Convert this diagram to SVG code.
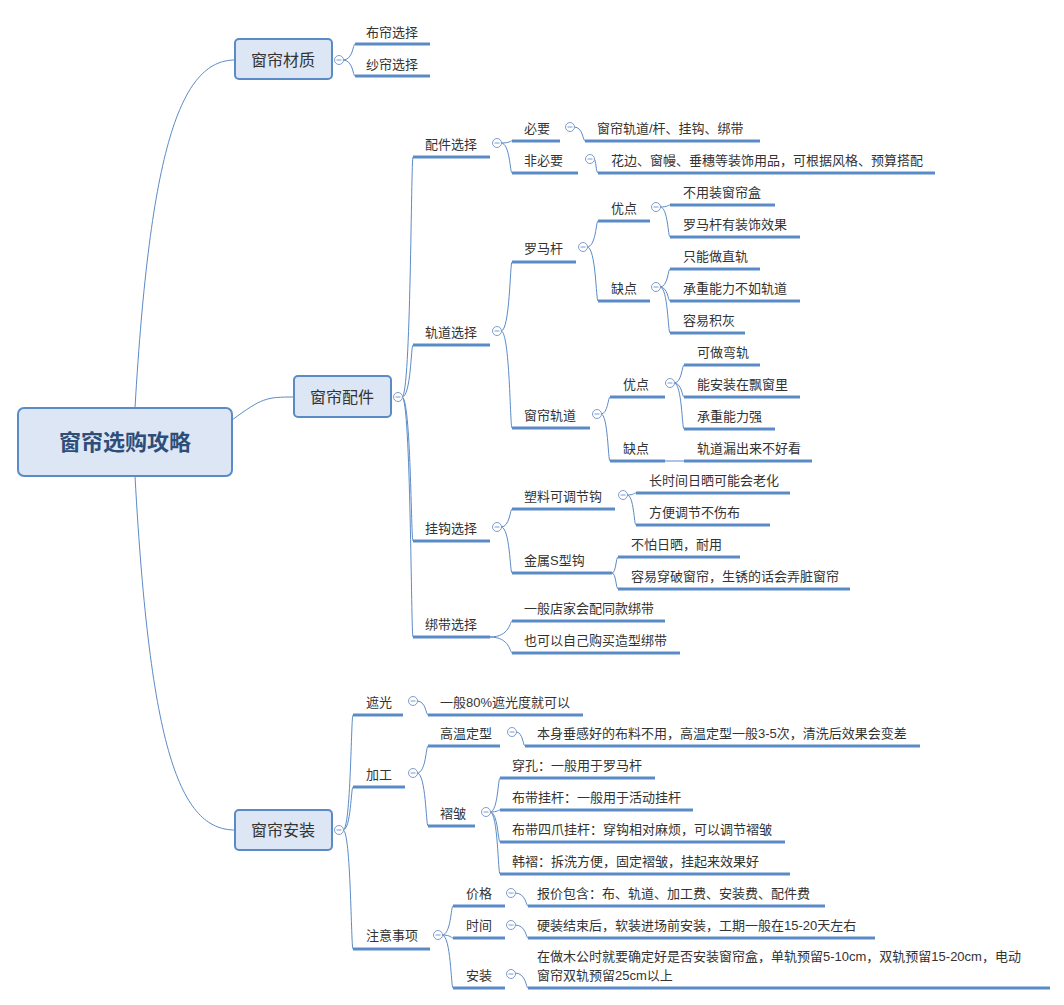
<svg xmlns="http://www.w3.org/2000/svg" width="1064" height="1005" viewBox="0 0 1064 1005">
<style>
.t{font-family:"Liberation Sans","Noto Sans CJK SC",sans-serif;font-size:13px;fill:#333}
.m{font-family:"Liberation Sans","Noto Sans CJK SC",sans-serif;font-size:16px;fill:#333;text-anchor:middle}
.r{font-family:"Liberation Sans","Noto Sans CJK SC",sans-serif;font-size:22px;font-weight:bold;fill:#2e4d78;text-anchor:middle}
.ul{stroke:#5b8bc7;stroke-width:3;fill:none}
.e{stroke:#5b8bc7;stroke-width:1;fill:none}
.c{stroke:#7d9ccc;stroke-width:1;fill:#fff}
.box{fill:#dce6f4;stroke:#5b8bc7;stroke-width:2}
</style>
<defs>
<g id="col"><circle class="c" r="4.5"/><line x1="-2.5" x2="2.5" stroke="#7d9ccc" stroke-width="1"/></g>
</defs>
<rect width="1064" height="1005" fill="#fff"/>
<g id="connectors">
<path class="e" d="M135,408 C150,150 180,60 235,60"/>
<path class="e" d="M232,420 C262,398 266,397 294,397"/>
<path class="e" d="M135,476 C150,750 180,830 235,830"/>
<path class="e" d="M343,60 C353,60 353,44 355,44 M343,60 C353,60 353,76 355,76"/>
<path class="e" d="M402,397 C411,397 411,157 413,157 M402,397 C411,397 411,345 413,345 M402,397 C411,397 411,541 413,541 M402,397 C411,397 411,637 413,637"/>
<path class="e" d="M501,143 C510,143 510,141 512,141 M501,143 C510,143 510,173 512,173"/>
<path class="e" d="M574,127 C583,127 583,141 585,141"/>
<path class="e" d="M594,159 C596,159 596,173 598,173"/>
<path class="e" d="M501,331 C510,331 510,262 512,262 M501,331 C510,331 510,428 512,428"/>
<path class="e" d="M587,247 C596,247 596,221 598,221 M587,247 C596,247 596,301 598,301"/>
<path class="e" d="M660,207 C668,207 668,205 670,205 M660,207 C668,207 668,237 670,237"/>
<path class="e" d="M660,287 C668,287 668,269 670,269 M660,287 C668,287 668,301 670,301 M660,287 C668,287 668,333 670,333"/>
<path class="e" d="M601,414 C608,414 608,397 610,397 M601,414 C608,414 608,461 610,461"/>
<path class="e" d="M674,383 C682,383 682,365 684,365 M674,383 C682,383 682,397 684,397 M674,383 C682,383 682,429 684,429"/>
<path class="e" d="M665,461 L684,461"/>
<path class="e" d="M501,527 C510,527 510,509 512,509 M501,527 C510,527 510,573 512,573"/>
<path class="e" d="M627,495 C634,495 634,493 636,493 M627,495 C634,495 634,525 636,525"/>
<path class="e" d="M612,573 C616,573 616,557 618,557 M612,573 C616,573 616,589 618,589"/>
<path class="e" d="M490,637 C510,637 510,621 512,621 M490,637 C510,637 510,653 512,653"/>
<path class="e" d="M343,830 C351,830 351,715 353,715 M343,830 C351,830 351,787 353,787 M343,830 C351,830 351,949 353,949"/>
<path class="e" d="M417,701 C426,701 426,715 428,715"/>
<path class="e" d="M417,773 C426,773 426,746 428,746 M417,773 C426,773 426,826 428,826"/>
<path class="e" d="M516,732 C523,732 523,746 525,746"/>
<path class="e" d="M490,812 C498,812 498,778 500,778 M490,812 C498,812 498,810 500,810 M490,812 C498,812 498,842 500,842 M490,812 C498,812 498,874 500,874"/>
<path class="e" d="M442,935 C451,935 451,906 453,906 M442,935 C451,935 451,938 453,938 M442,935 C451,935 451,988 453,988"/>
<path class="e" d="M515,893 C526,893 526,906 528,906 M515,925 C526,925 526,938 528,938 M515,973 C526,973 526,988 528,988"/>
</g>
<g id="root"><rect class="box" x="18" y="408" width="214" height="68" rx="6" stroke-width="4"/><text class="r" x="125" y="450">窗帘选购攻略</text></g>
<g id="n-caizhi"><rect class="box" x="235" y="39" width="97" height="40" rx="4"/><text class="m" x="283" y="66">窗帘材质</text><use href="#col" x="339" y="60"/></g>
<g id="n-peijian"><rect class="box" x="294" y="376" width="97" height="41" rx="4"/><text class="m" x="342" y="403">窗帘配件</text><use href="#col" x="398" y="397"/></g>
<g id="n-anzhuang"><rect class="box" x="235" y="810" width="97" height="40" rx="4"/><text class="m" x="283" y="836">窗帘安装</text><use href="#col" x="339" y="830"/></g>
<g id="subtopics">
<g><text class="t" x="366" y="37">布帘选择</text><path class="ul" d="M355,44H430"/></g>
<g><text class="t" x="366" y="69">纱帘选择</text><path class="ul" d="M355,76H430"/></g>
<g><text class="t" x="425" y="149">配件选择</text><path class="ul" d="M413,157H490"/><use href="#col" x="497" y="143"/></g>
<g><text class="t" x="524" y="133">必要</text><path class="ul" d="M512,141H560"/><use href="#col" x="570" y="127"/></g>
<g><text class="t" x="597" y="133">窗帘轨道/杆、挂钩、绑带</text><path class="ul" d="M585,141H760"/></g>
<g><text class="t" x="524" y="165">非必要</text><path class="ul" d="M512,173H578"/><use href="#col" x="590" y="159"/></g>
<g><text class="t" x="611" y="165">花边、窗幔、垂穗等装饰用品，可根据风格、预算搭配</text><path class="ul" d="M598,173H935"/></g>
<g><text class="t" x="425" y="337">轨道选择</text><path class="ul" d="M413,345H490"/><use href="#col" x="497" y="331"/></g>
<g><text class="t" x="524" y="253">罗马杆</text><path class="ul" d="M512,262H576"/><use href="#col" x="583" y="247"/></g>
<g><text class="t" x="611" y="213">优点</text><path class="ul" d="M598,221H650"/><use href="#col" x="656" y="207"/></g>
<g><text class="t" x="683" y="197">不用装窗帘盒</text><path class="ul" d="M670,205H775"/></g>
<g><text class="t" x="683" y="229">罗马杆有装饰效果</text><path class="ul" d="M670,237H800"/></g>
<g><text class="t" x="611" y="293">缺点</text><path class="ul" d="M598,301H650"/><use href="#col" x="656" y="287"/></g>
<g><text class="t" x="683" y="261">只能做直轨</text><path class="ul" d="M670,269H760"/></g>
<g><text class="t" x="683" y="293">承重能力不如轨道</text><path class="ul" d="M670,301H800"/></g>
<g><text class="t" x="683" y="325">容易积灰</text><path class="ul" d="M670,333H745"/></g>
<g><text class="t" x="524" y="420">窗帘轨道</text><path class="ul" d="M512,428H590"/><use href="#col" x="597" y="414"/></g>
<g><text class="t" x="623" y="389">优点</text><path class="ul" d="M610,397H665"/><use href="#col" x="670" y="383"/></g>
<g><text class="t" x="697" y="357">可做弯轨</text><path class="ul" d="M684,365H760"/></g>
<g><text class="t" x="697" y="389">能安装在飘窗里</text><path class="ul" d="M684,397H800"/></g>
<g><text class="t" x="697" y="421">承重能力强</text><path class="ul" d="M684,429H775"/></g>
<g><text class="t" x="623" y="453">缺点</text><path class="ul" d="M610,461H665"/></g>
<g><text class="t" x="697" y="453">轨道漏出来不好看</text><path class="ul" d="M684,461H812"/></g>
<g><text class="t" x="425" y="533">挂钩选择</text><path class="ul" d="M413,541H490"/><use href="#col" x="497" y="527"/></g>
<g><text class="t" x="524" y="501">塑料可调节钩</text><path class="ul" d="M512,509H615"/><use href="#col" x="623" y="495"/></g>
<g><text class="t" x="649" y="485">长时间日晒可能会老化</text><path class="ul" d="M636,493H790"/></g>
<g><text class="t" x="649" y="517">方便调节不伤布</text><path class="ul" d="M636,525H770"/></g>
<g><text class="t" x="524" y="565">金属S型钩</text><path class="ul" d="M512,573H612"/></g>
<g><text class="t" x="631" y="549">不怕日晒，耐用</text><path class="ul" d="M618,557H740"/></g>
<g><text class="t" x="631" y="581">容易穿破窗帘，生锈的话会弄脏窗帘</text><path class="ul" d="M618,589H850"/></g>
<g><text class="t" x="425" y="629">绑带选择</text><path class="ul" d="M413,637H490"/></g>
<g><text class="t" x="524" y="613">一般店家会配同款绑带</text><path class="ul" d="M512,621H665"/></g>
<g><text class="t" x="524" y="645">也可以自己购买造型绑带</text><path class="ul" d="M512,653H680"/></g>
<g><text class="t" x="366" y="707">遮光</text><path class="ul" d="M353,715H403"/><use href="#col" x="413" y="701"/></g>
<g><text class="t" x="440" y="707">一般80%遮光度就可以</text><path class="ul" d="M428,715H583"/></g>
<g><text class="t" x="366" y="779">加工</text><path class="ul" d="M353,787H405"/><use href="#col" x="413" y="773"/></g>
<g><text class="t" x="440" y="738">高温定型</text><path class="ul" d="M428,746H500"/><use href="#col" x="512" y="732"/></g>
<g><text class="t" x="537" y="738">本身垂感好的布料不用，高温定型一般3-5次，清洗后效果会变差</text><path class="ul" d="M525,746H920"/></g>
<g><text class="t" x="440" y="818">褶皱</text><path class="ul" d="M428,826H475"/><use href="#col" x="486" y="812"/></g>
<g><text class="t" x="512" y="770">穿孔：一般用于罗马杆</text><path class="ul" d="M500,778H655"/></g>
<g><text class="t" x="512" y="802">布带挂杆：一般用于活动挂杆</text><path class="ul" d="M500,810H693"/></g>
<g><text class="t" x="512" y="834">布带四爪挂杆：穿钩相对麻烦，可以调节褶皱</text><path class="ul" d="M500,842H785"/></g>
<g><text class="t" x="512" y="866">韩褶：拆洗方便，固定褶皱，挂起来效果好</text><path class="ul" d="M500,874H790"/></g>
<g><text class="t" x="366" y="940">注意事项</text><path class="ul" d="M353,949H430"/><use href="#col" x="438" y="935"/></g>
<g><text class="t" x="466" y="898">价格</text><path class="ul" d="M453,906H505"/><use href="#col" x="511" y="893"/></g>
<g><text class="t" x="537" y="898">报价包含：布、轨道、加工费、安装费、配件费</text><path class="ul" d="M528,906H825"/></g>
<g><text class="t" x="466" y="930">时间</text><path class="ul" d="M453,938H505"/><use href="#col" x="511" y="925"/></g>
<g><text class="t" x="537" y="930">硬装结束后，软装进场前安装，工期一般在15-20天左右</text><path class="ul" d="M528,938H875"/></g>
<g><text class="t" x="466" y="980">安装</text><path class="ul" d="M453,988H505"/><use href="#col" x="511" y="974"/></g>
<g><text class="t" x="537" y="961">在做木公时就要确定好是否安装窗帘盒，单轨预留5-10cm，双轨预留15-20cm，电动</text><text class="t" x="537" y="980">窗帘双轨预留25cm以上</text><path class="ul" d="M528,988H1050"/></g>
</g>
</svg>
